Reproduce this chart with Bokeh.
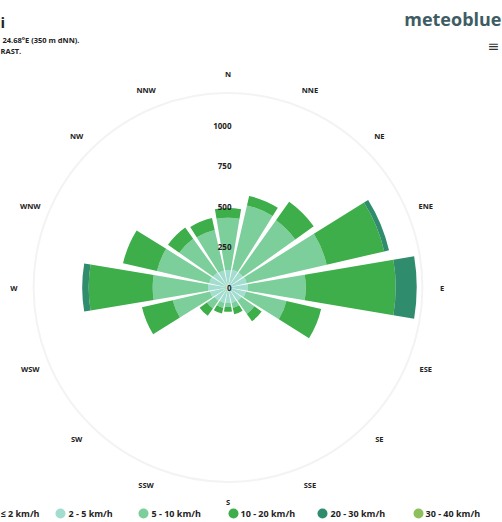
import math
from bokeh.plotting import figure
from bokeh.models import Range1d, ColumnDataSource
from bokeh.core.properties import value
from bokeh.embed import file_html
from bokeh.resources import INLINE

# ---------------- data ----------------
directions = ["N", "NNE", "NE", "ENE", "E", "ESE", "SE", "SSE",
              "S", "SSW", "SW", "WSW", "W", "WNW", "NW", "NNW"]
bins = ["≤ 2 km/h", "2 - 5 km/h", "5 - 10 km/h", "10 - 20 km/h", "20 - 30 km/h", "30 - 40 km/h"]
colors = ["#F3D9E6", "#A3DDCF", "#7CCF9A", "#3DAE4A", "#2F8C6D", "#8DBF5B"]

# hours per direction and speed class
calm = [8, 8, 8, 8, 8, 8, 6, 6, 6, 6, 6, 8, 8, 8, 8, 8]
s2_5 = [100, 105, 105, 110, 115, 105, 95, 90, 90, 90, 95, 105, 115, 110, 105, 100]
s5_10 = [322, 407, 397, 507, 357, 257, 99, 34, 24, 34, 59, 237, 342, 332, 257, 257]
s10_20 = [60, 60, 140, 365, 555, 220, 55, 40, 30, 35, 55, 195, 395, 215, 85, 75]
s20_30 = [0, 0, 0, 30, 130, 0, 0, 0, 0, 0, 0, 0, 40, 0, 0, 0]
s30_40 = [0, 0, 0, 0, 0, 0, 0, 0, 0, 0, 0, 0, 0, 0, 0, 0]
series = [calm, s2_5, s5_10, s10_20, s20_30, s30_40]

radial_ticks = [0, 250, 500, 750, 1000]
title_lines = ["i", "24.68°E (350 m dNN).", "RAST."]

# ---------------- layout ----------------
W, H = 502, 522
k = 0.162              # pixels per hour on the radial axis
cx, cy = 227.5, 287.0  # rose centre in figure pixels (from top-left)

p = figure(width=W, height=H, output_backend="svg", toolbar_location=None,
           x_range=Range1d(-cx / k, (W - cx) / k),
           y_range=Range1d(-(H - cy) / k, cy / k),
           x_axis_location=None, y_axis_location=None,
           min_border=0, tools="")
p.grid.visible = False
p.outline_line_color = None
p.background_fill_color = "white"
p.border_fill_color = "white"


def px(xp, yp):
    """figure pixel (from top-left) -> data coordinates"""
    return (xp - cx) / k, (cy - yp) / k


FONT = value("Open Sans")

# faint outer circle
p.circle(x=0, y=0, radius=[1200], fill_color=None, line_color="#F3F3F3", line_width=2)

# stacked wedges
half = math.radians(9.5)
mid = [math.radians(90 - 22.5 * i) for i in range(len(directions))]
cum = [0.0] * len(directions)
for vals, col in zip(series, colors):
    inner = list(cum)
    outer = [a + b for a, b in zip(cum, vals)]
    src = ColumnDataSource(dict(
        inner=inner, outer=outer,
        start=[m - half for m in mid], end=[m + half for m in mid]))
    p.annular_wedge(x=0, y=0, inner_radius="inner", outer_radius="outer",
                    start_angle="start", end_angle="end", source=src,
                    fill_color=col, line_color=None)
    cum = outer

# radial tick labels
p.text(x=[3.5 / k] * len(radial_ticks), y=radial_ticks, text=[str(t) for t in radial_ticks],
       text_font=FONT, text_font_size="8px", text_font_style="bold",
       text_color="#222222", text_align="right", text_baseline="middle")

# direction labels
lab_r = 214 / k
p.text(x=[lab_r * math.cos(m) for m in mid], y=[lab_r * math.sin(m) for m in mid],
       text=directions, text_font=FONT, text_font_size="7.5px", text_font_style="bold",
       text_color="#222222", text_align="center", text_baseline="middle")

# title fragments (top-left)
tx, ty = px(0, 21)
p.text(x=[tx], y=[ty], text=[title_lines[0]], text_font=FONT, text_font_size="15px",
       text_font_style="bold", text_color="#222222", text_baseline="middle")
tx, ty = px(2, 39)
p.text(x=[tx], y=[ty], text=[title_lines[1]], text_font=FONT, text_font_size="7.5px",
       text_font_style="bold", text_color="#222222", text_baseline="middle")
tx, ty = px(0, 50)
p.text(x=[tx], y=[ty], text=[title_lines[2]], text_font=FONT, text_font_size="7.5px",
       text_font_style="bold", text_color="#222222", text_baseline="middle")

# logo and menu
lx, ly = px(501, 18)
p.text(x=[lx], y=[ly], text=["meteoblue"], text_font=FONT, text_font_size="18px",
       text_font_style="bold", text_color="#3E5C64", text_align="right", text_baseline="middle")
mx, my = px(499, 45)
p.text(x=[mx], y=[my], text=["≡"], text_font=value("DejaVu Sans"), text_font_size="14px",
       text_color="#333333", text_align="right", text_baseline="middle")

# legend
marker_px = [-12, 60, 143, 233, 322, 418]
text_px = [0, 68, 151, 240, 330, 425]
leg_y = 513
mxs = [px(m, leg_y)[0] for m in marker_px]
mys = [px(0, leg_y)[1]] * len(marker_px)
p.scatter(x=mxs, y=mys, marker="circle", size=10, fill_color=colors, line_color=None)
p.text(x=[px(t, leg_y)[0] for t in text_px], y=mys, text=bins, text_font=FONT,
       text_font_size="9px", text_font_style="bold", text_color="#222222",
       text_baseline="middle")

open("out.html", "w").write(file_html(p, INLINE))
